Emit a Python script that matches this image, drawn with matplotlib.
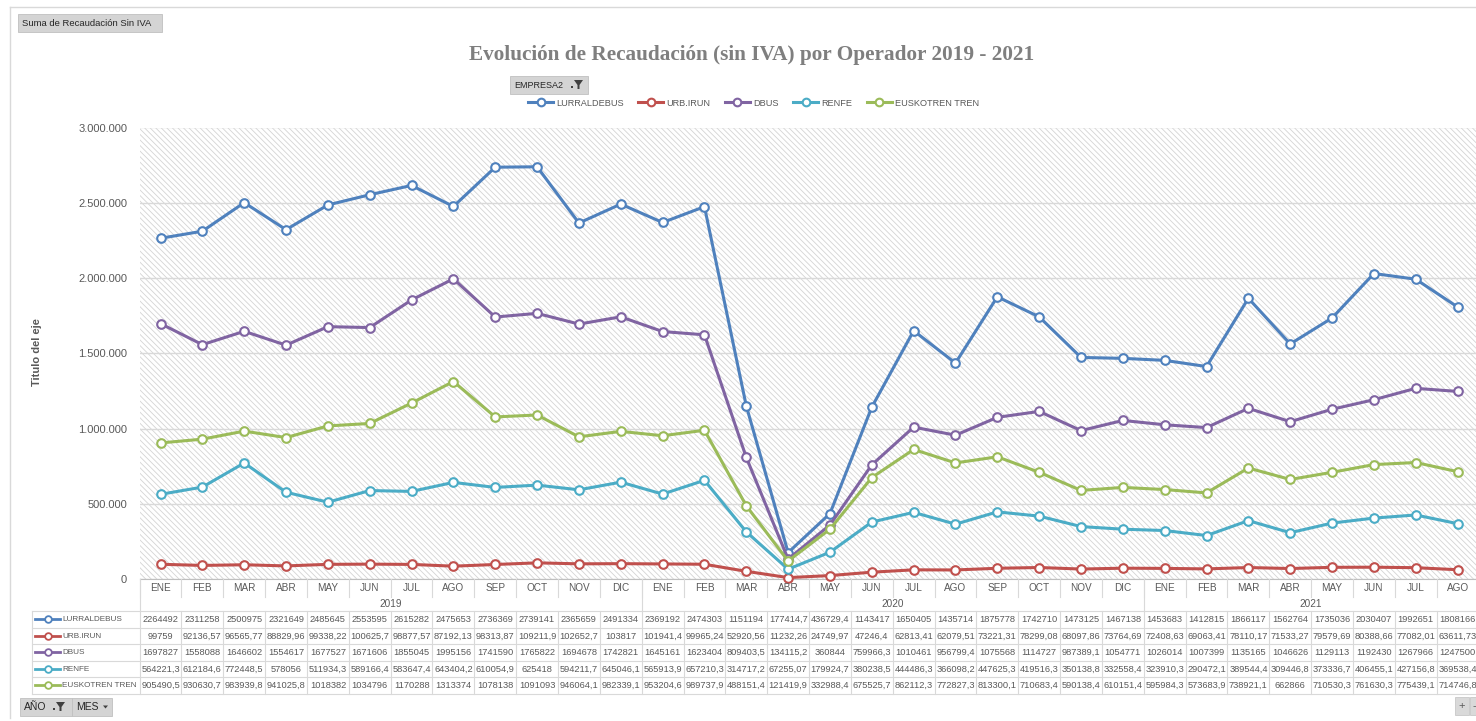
import matplotlib
matplotlib.use("Agg")
import matplotlib.pyplot as plt
from matplotlib.transforms import blended_transform_factory
from matplotlib.patches import Rectangle, Polygon
from matplotlib.lines import Line2D
from matplotlib.ticker import FuncFormatter, MultipleLocator

# ---------------- data ----------------
months = ["ENE", "FEB", "MAR", "ABR", "MAY", "JUN", "JUL", "AGO", "SEP", "OCT", "NOV", "DIC",
          "ENE", "FEB", "MAR", "ABR", "MAY", "JUN", "JUL", "AGO", "SEP", "OCT", "NOV", "DIC",
          "ENE", "FEB", "MAR", "ABR", "MAY", "JUN", "JUL", "AGO"]
years = ["2019", "2020", "2021"]
year_counts = [12, 12, 8]

lurraldebus = [2264492, 2311258, 2500975, 2321649, 2485645, 2553595, 2615282, 2475653, 2736369, 2739141,
               2365659, 2491334, 2369192, 2474303, 1151194, 177414.7, 436729.4, 1143417, 1650405, 1435714,
               1875778, 1742710, 1473125, 1467138, 1453683, 1412815, 1866117, 1562764, 1735036, 2030407,
               1992651, 1808166]
urb_irun = [99759, 92136.57, 96565.77, 88829.96, 99338.22, 100625.7, 98877.57, 87192.13, 98313.87, 109211.9,
            102652.7, 103817, 101941.4, 99965.24, 52920.56, 11232.26, 24749.97, 47246.4, 62813.41, 62079.51,
            73221.31, 78299.08, 68097.86, 73764.69, 72408.63, 69063.41, 78110.17, 71533.27, 79579.69, 80388.66,
            77082.01, 63611.73]
dbus = [1697827, 1558088, 1646602, 1554617, 1677527, 1671606, 1855045, 1995156, 1741590, 1765822,
        1694678, 1742821, 1645161, 1623404, 809403.5, 134115.2, 360844, 759966.3, 1010461, 956799.4,
        1075568, 1114727, 987389.1, 1054771, 1026014, 1007399, 1135165, 1046626, 1129113, 1192430,
        1267966, 1247500]
renfe = [564221.3, 612184.6, 772448.5, 578056, 511934.3, 589166.4, 583647.4, 643404.2, 610054.9, 625418,
         594211.7, 645046.1, 565913.9, 657210.3, 314717.2, 67255.07, 179924.7, 380238.5, 444486.3, 366098.2,
         447625.3, 419516.3, 350138.8, 332558.4, 323910.3, 290472.1, 389544.4, 309446.8, 373336.7, 406455.1,
         427156.8, 369538.4]
euskotren = [905490.5, 930630.7, 983939.8, 941025.8, 1018382, 1034796, 1170288, 1313374, 1078138, 1091093,
             946064.1, 982339.1, 953204.6, 989737.9, 488151.4, 121419.9, 332988.4, 675525.7, 862112.3, 772827.3,
             813300.1, 710683.4, 590138.4, 610151.4, 595984.3, 573683.9, 738921.1, 662866, 710530.3, 761630.3,
             775439.1, 714746.8]

series_names = ["LURRALDEBUS", "URB.IRUN", "DBUS", "RENFE", "EUSKOTREN TREN"]
series_values = [lurraldebus, urb_irun, dbus, renfe, euskotren]
colors = ["#4F81BD", "#C0504D", "#8064A2", "#4BACC6", "#9BBB59"]

title = "Evolución de Recaudación (sin IVA) por Operador 2019 - 2021"

# ---------------- figure ----------------
W, H = 1476, 721
fig = plt.figure(figsize=(W / 100, H / 100), dpi=100)
fig.patch.set_facecolor("white")

TXT = "#595959"
GRID = "#d9d9d9"
FONT = "Liberation Sans"

# overlay for decorations in pixel coordinates
ov = fig.add_axes([0, 0, 1, 1], zorder=5)
ov.set_xlim(0, W)
ov.set_ylim(H, 0)
ov.axis("off")
ov.patch.set_alpha(0)

left_px, right_px = 139.6, 1478.5
top_px, bot_px = 127.5, 579.3
ax = fig.add_axes([left_px / W, 1 - bot_px / H, (right_px - left_px) / W, (bot_px - top_px) / H], zorder=2)

n = len(months)
x = list(range(n))
ax.set_xlim(-0.5, n - 0.5)
ax.set_ylim(0, 3000000)

# hatched background
plt.rcParams["hatch.linewidth"] = 0.6
ax.patch.set_facecolor("white")
bg = Rectangle((0, 0), 1, 1, transform=ax.transAxes, facecolor="white",
               edgecolor="#d4d4d4", hatch="\\\\\\\\\\\\", linewidth=0, zorder=0)
ax.add_patch(bg)

ax.yaxis.set_major_locator(MultipleLocator(500000))
ax.yaxis.set_major_formatter(FuncFormatter(lambda v, p: f"{int(v):,}".replace(",", ".")))
ax.grid(axis="y", color=GRID, linewidth=1.0, zorder=1)
ax.set_axisbelow(True)
for s in ["top", "right", "left"]:
    ax.spines[s].set_visible(False)
ax.spines["bottom"].set_color("#bfbfbf")
ax.set_xticks([])
ax.tick_params(axis="y", length=0, labelsize=8, labelcolor=TXT, pad=9)
for lab in ax.get_yticklabels():
    lab.set_fontfamily(FONT)

for name, vals, c in zip(series_names, series_values, colors):
    ax.plot(x, vals, color=c, linewidth=2.2, marker="o", markersize=6.2,
            markerfacecolor="white", markeredgecolor=c, markeredgewidth=1.5, label=name, zorder=3,
            clip_on=False)

# axis title
fig.text(37 / W, 1 - 352 / H, "Titulo del eje", rotation=90, ha="center", va="center",
         fontsize=8, fontweight="bold", color=TXT, family=FONT)

# chart title
fig.text(751.5 / W, 1 - 55 / H, title, ha="center", va="center", fontsize=15.3, fontweight="bold",
         color="#7f7f7f", family="Liberation Serif")

# legend
handles = [Line2D([], [], color=c, linewidth=2.2, marker="o", markersize=5.5, markerfacecolor="white",
                  markeredgecolor=c, markeredgewidth=1.5) for c in colors]
fig.legend(handles, series_names, loc="center", bbox_to_anchor=(753.5 / W, 1 - 103 / H), ncol=5,
           frameon=False, handlelength=2.7, handletextpad=0.35, columnspacing=1.6,
           labelcolor=TXT, prop={"family": FONT, "size": 6.6})

# outer chart border
ov.plot([10, W], [7, 7], color="#d9d9d9", linewidth=1)
ov.plot([10, 10], [7, H - 3], color="#d9d9d9", linewidth=1)


def button(x0, y0, w, h, text, fs=7, icon=None, arrow=False):
    ov.add_patch(Rectangle((x0, y0), w, h, facecolor="#d4d4d4", edgecolor="#c0c0c0", linewidth=0.6))
    ov.text(x0 + 4, y0 + h / 2 + 0.5, text, ha="left", va="center", fontsize=fs, color="#262626",
            family=FONT)
    if icon is not None:
        fx = icon
        ov.add_patch(Polygon([(fx, y0 + 4), (fx + 9, y0 + 4), (fx + 5.5, y0 + 9), (fx + 5.5, y0 + 13),
                              (fx + 3.5, y0 + 13), (fx + 3.5, y0 + 9)], closed=True,
                             facecolor="#404040", edgecolor="none"))
        ov.add_patch(Rectangle((fx - 3, y0 + 10), 1.5, 1.5, facecolor="#404040", edgecolor="none"))
    if arrow:
        ax_ = x0 + w - 9
        ov.add_patch(Polygon([(ax_, y0 + h / 2 - 1.5), (ax_ + 5, y0 + h / 2 - 1.5), (ax_ + 2.5, y0 + h / 2 + 1.5)],
                             closed=True, facecolor="#404040", edgecolor="none"))


button(18, 14, 144, 18, "Suma de Recaudación Sin IVA", fs=6.8)
button(510, 76, 78, 18, "EMPRESA2", fs=6.5, icon=574)
button(20, 698, 52, 18, "AÑO", fs=7.5, icon=56)
button(72, 698, 40, 18, "MES", fs=7.5, arrow=True)
ov.add_patch(Rectangle((1455, 697), 14, 18, facecolor="#d9d9d9", edgecolor="#c8c8c8", linewidth=0.6))
ov.text(1462, 706, "+", ha="center", va="center", fontsize=8, color="#595959", family=FONT)
ov.add_patch(Rectangle((1470, 697), 14, 18, facecolor="#d9d9d9", edgecolor="#c8c8c8", linewidth=0.6))
ov.text(1474, 706, "-", ha="center", va="center", fontsize=8, color="#595959", family=FONT)

# ---------------- data table ----------------
tr = blended_transform_factory(ax.transData, ov.transData)
row_lines = [611, 627.5, 644, 660.5, 677, 693.5]
month_y, year_y = 588, 604
label_left = 32

for i, m in enumerate(months):
    ov.text(i, month_y, m, transform=tr, ha="center", va="center", fontsize=7.2, color=TXT, family=FONT)
for b in range(n + 1):
    ov.plot([b - 0.5, b - 0.5], [bot_px, 597], transform=tr, color=GRID, linewidth=0.8)

start = 0
for yr, cnt in zip(years, year_counts):
    ov.text(start + (cnt - 1) / 2, year_y, yr, transform=tr, ha="center", va="center", fontsize=7.2,
            color=TXT, family=FONT)
    ov.plot([start - 0.5, start - 0.5], [bot_px, row_lines[0]], transform=tr, color=GRID, linewidth=0.8)
    start += cnt

# horizontal lines
for yl in row_lines:
    ov.plot([label_left, W], [yl, yl], color=GRID, linewidth=0.8)
ov.plot([label_left, label_left], [row_lines[0], row_lines[-1]], color=GRID, linewidth=0.8)
for b in range(n + 1):
    ov.plot([b - 0.5, b - 0.5], [row_lines[0], row_lines[-1]], transform=tr, color=GRID, linewidth=0.8)

for r, (name, vals, c) in enumerate(zip(series_names, series_values, colors)):
    yc = (row_lines[r] + row_lines[r + 1]) / 2
    ov.plot([35, 60], [yc, yc], color=c, linewidth=2.0)
    ov.plot([47.5], [yc], marker="o", markersize=4.8, markerfacecolor="white", markeredgecolor=c,
            markeredgewidth=1.3)
    ov.text(62, yc + 0.5, name, ha="left", va="center", fontsize=5.9, color=TXT, family=FONT)
    for i, v in enumerate(vals):
        s = ("%.7g" % v).replace(".", ",")
        ov.text(i, yc + 0.5, s, transform=tr, ha="center", va="center", fontsize=6.7, color=TXT,
                family=FONT)

fig.savefig("out.png", dpi=100, facecolor="white")
